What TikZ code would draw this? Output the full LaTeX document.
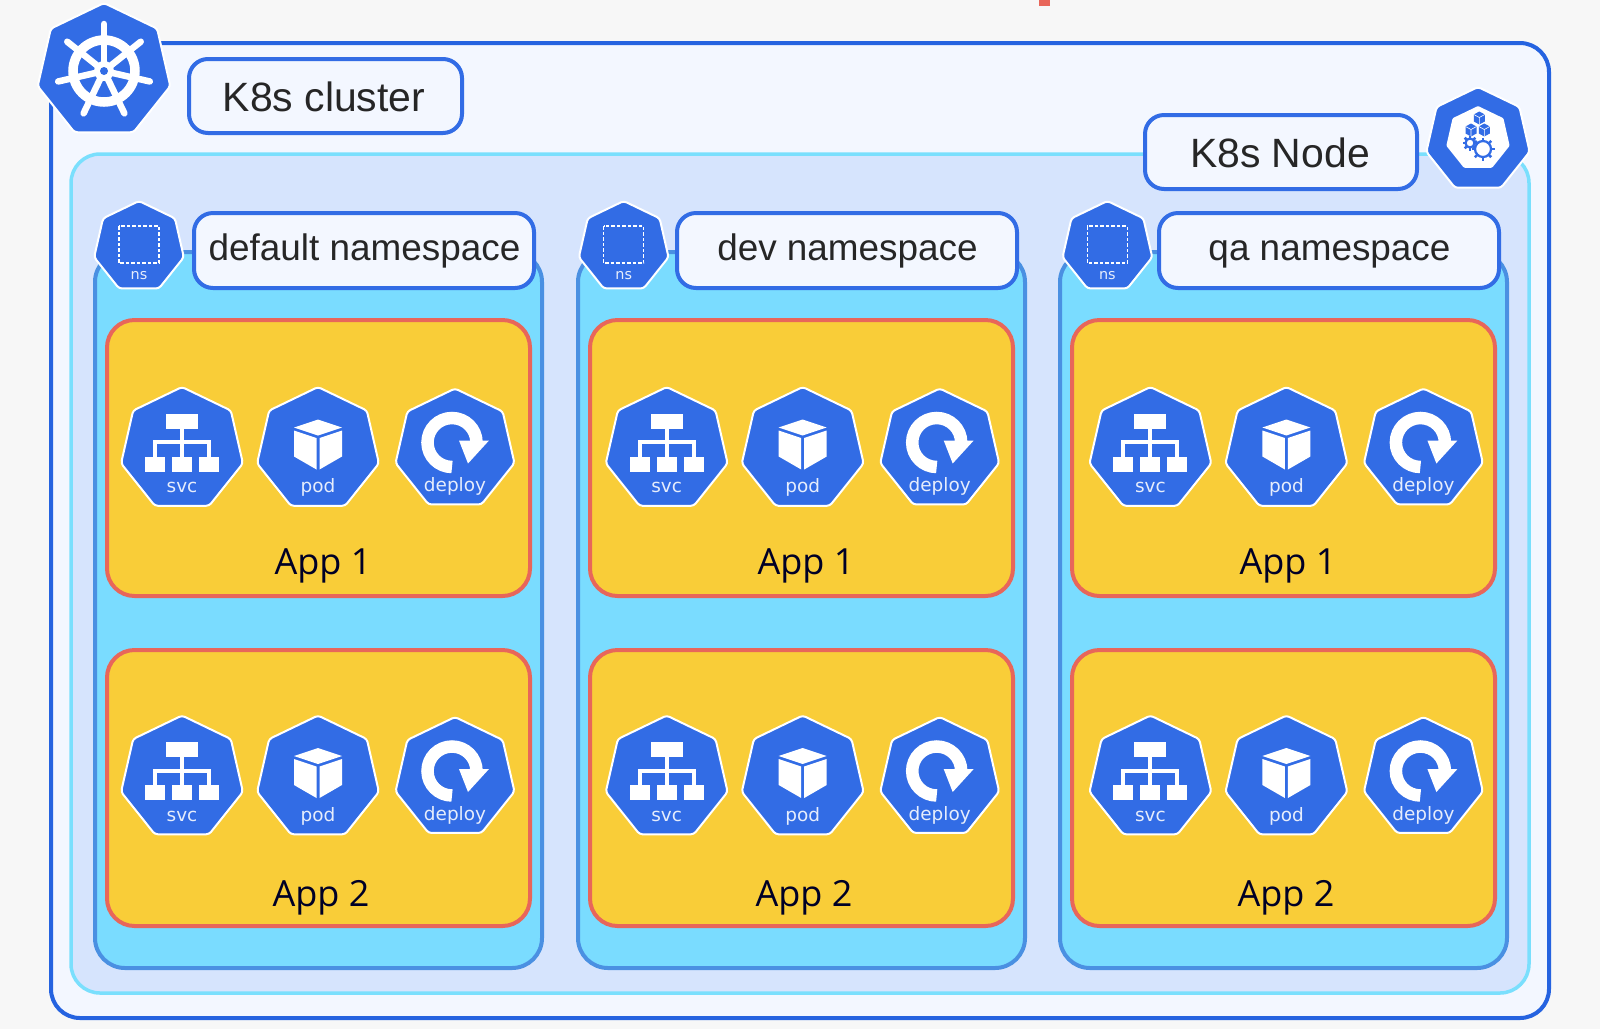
\documentclass[tikz,border=0pt]{standalone}
\usepackage{fontspec}
\setmainfont{Liberation Sans}
\newfontfamily\iconfont{DejaVu Sans}
\newfontfamily\appfont{Open Sans}
\usetikzlibrary{shapes.geometric}
\definecolor{k8sblue}{HTML}{326CE5}
\definecolor{clusterline}{HTML}{2563E0}
\definecolor{clusterfill}{HTML}{F3F7FF}
\definecolor{nodeline}{HTML}{7ADFFD}
\definecolor{nodefill}{HTML}{D6E4FD}
\definecolor{nsline}{HTML}{4A90E2}
\definecolor{nsfill}{HTML}{7ADCFF}
\definecolor{appline}{HTML}{E8665A}
\definecolor{appfill}{HTML}{F9CD38}
\definecolor{icontext}{HTML}{E6EDFC}
\tikzset{
  clusterbox/.style={draw=clusterline,fill=clusterfill,line width=0.08cm,rounded corners=0.58cm},
  nodebox/.style={draw=nodeline,fill=nodefill,line width=0.07cm,rounded corners=0.58cm},
  nsbox/.style={draw=nsline,fill=nsfill,line width=0.08cm,rounded corners=0.6cm},
  appbox/.style={draw=appline,fill=appfill,line width=0.08cm,rounded corners=0.55cm},
  titlebox/.style={draw=k8sblue,fill=clusterfill,line width=0.08cm,rounded corners=0.38cm},
  titletext/.style={text=black!85,font=\fontsize{23.3}{27}\selectfont,inner sep=0pt,anchor=base},
  nstext/.style={text=black!85,font=\fontsize{21}{25}\selectfont,inner sep=0pt,anchor=base},
  apptext/.style={text=black!85!blue,font=\appfont\fontsize{20.5}{24}\selectfont,inner sep=0pt},
  hept/.style={regular polygon,regular polygon sides=7,minimum size=#1,inner sep=0pt,
    draw=white,fill=k8sblue,line width=0.04cm,rounded corners=0.06cm},
  icontag/.style={text=icontext,inner sep=0pt,font=\iconfont\fontsize{10.5}{12}\selectfont},
  glyph/.style={fill=white,draw=none},
  svcicon/.pic={
    \node[hept=2.5cm] (-hept) at (0,0) {};
    \fill[glyph] (-16,-36) rectangle (16,-21);
    \fill[glyph] (-37,7) rectangle (-17,22);
    \fill[glyph] (-10,7) rectangle (10,22);
    \fill[glyph] (17,7) rectangle (37,22);
    \draw[white,line width=0.08cm] (0,-21) -- (0,7) (-27,7) -- (-27,-7.5) -- (27,-7.5) -- (27,7);
    \node[icontag] (-tag) at (0,38) {svc};
  },
  podicon/.pic={
    \node[hept=2.5cm] (-hept) at (0,0) {};
    \fill[glyph] (0,-30) -- (-24,-22) -- (0,-14) -- (24,-22) -- cycle;
    \fill[glyph] (-24,-19) -- (-1.5,-11.5) -- (-1.5,20) -- (-24,7) -- cycle;
    \fill[glyph] (24,-19) -- (1.5,-11.5) -- (1.5,20) -- (24,7) -- cycle;
    \node[icontag] (-tag) at (0,38) {pod};
  },
  deployicon/.pic={
    \node[hept=2.44cm] (-hept) at (0,0) {};
    \draw[white,line width=0.25cm] (-3,17.5) arc[start angle=90,end angle=360,radius=24.5];
    \fill[glyph] (4,-9) -- (34,-9) -- (13,14) -- cycle;
    \node[icontag] (-tag) at (0,37) {deploy};
  },
  nsicon/.pic={
    \node[hept=1.84cm] (-hept) at (0,0) {};
    \draw[white,line width=0.03cm,dash pattern=on 0.07cm off 0.04cm] (-20,-21) rectangle (20,16);
    \node[icontag,font=\iconfont\fontsize{8.2}{10}\selectfont] (-tag) at (0,29) {ns};
  },
}
\begin{document}
\begin{tikzpicture}[x=0.02cm,y=-0.02cm]
\useasboundingbox (0,0) rectangle (1600,1029);
\fill[white!97!black] (0,0) rectangle (1600,1029);
\fill[appline] (1039,0) rectangle (1050,6);

% cluster
\draw[clusterbox] (51,43) rectangle (1549,1018);
\node[hept=2.72cm] (helm) at (104,71) {};
\draw[white,line width=0.19cm] (helm.center) circle (31);
\foreach \a in {90,141.43,192.86,244.29,295.71,347.14,398.57}
  \draw[white,line width=0.13cm,line cap=round] (helm.center) -- ++(-\a:47);
\fill[white] (helm.center) circle (10);
\fill[k8sblue] (helm.center) circle (4);
\draw[titlebox] (189,59) rectangle (462,133);
\node[titletext] (clustertitle) at (324,111) {K8s cluster};

% worker node
\draw[nodebox] (71,154) rectangle (1529,993);
\draw[titlebox] (1145,115) rectangle (1417,189);
\node[titletext] (nodetitle) at (1280,167) {K8s Node};
\node[hept=2.12cm] (nodeicon) at (1478,140) {};
\node[regular polygon,regular polygon sides=7,minimum size=1.3cm,inner sep=0pt,fill=white,rounded corners=0.02cm] (nodeinner) at (1478,138.5) {};
\begin{scope}[shift={(1478,140)}]
\foreach \cx/\cy in {1.3/-22,-7/-10,6.3/-10} {
  \fill[k8sblue] (\cx,\cy-6.5) -- (\cx+5.5,\cy-3.5) -- (\cx+5.5,\cy+3.5) -- (\cx,\cy+6.5) -- (\cx-5.5,\cy+3.5) -- (\cx-5.5,\cy-3.5) -- cycle;
  \draw[white,line width=0.012cm] (\cx-5.5,\cy-3.5) -- (\cx,\cy-0.5) -- (\cx+5.5,\cy-3.5) (\cx,\cy-0.5) -- (\cx,\cy+6.5);
}
\foreach \gx/\gy/\gr/\gt in {-8/3/4.5/7.5,5/9/8/11.5} {
  \draw[k8sblue,line width=0.045cm] (\gx,\gy) circle (\gr);
  \foreach \a in {0,45,...,315}
    \draw[k8sblue,line width=0.05cm] (\gx,\gy) ++(\a:\gr) -- ++(\a:\gt-\gr);
}
\end{scope}

% namespaces
\foreach \nsx/\nsname/\nstitle/\ic in {95/default/default namespace/0,578/dev/dev namespace/1.7,1060/qa/qa namespace/3.4} {
\begin{scope}[shift={(\nsx,0)}]
\draw[nsbox] (0,252) rectangle (447,968);
\pic (ns-\nsname) at (44+\ic,247) {nsicon};
\draw[titlebox] (99,213) rectangle (439,288);
\node[nstext] (title-\nsname) at (269.5,260) {\nstitle};
\foreach \appy/\appnum/\icy in {320/1/129.5,650/2/128} {
  \draw[appbox] (12,\appy) rectangle (435,\appy+276);
  \pic (svc-\nsname-\appnum) at (87+\ic,\appy+\icy) {svcicon};
  \pic (pod-\nsname-\appnum) at (223+\ic,\appy+\icy) {podicon};
  \pic (deploy-\nsname-\appnum) at (360+\ic,\appy+\icy) {deployicon};
}
\node[apptext] (app-\nsname-1) at (228,566) {App 1};
\node[apptext] (app-\nsname-2) at (226,898) {App 2};
\end{scope}
}
\end{tikzpicture}
\end{document}
